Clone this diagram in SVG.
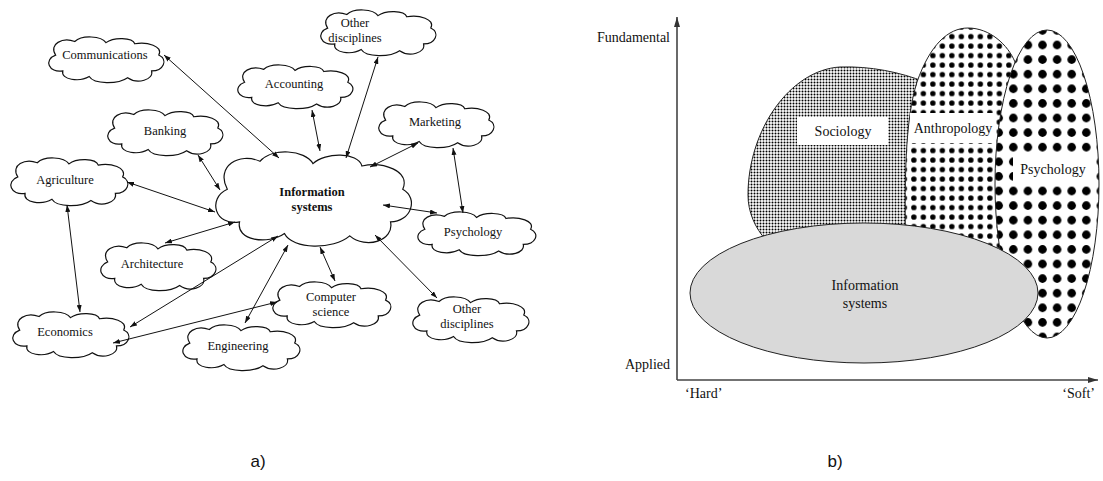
<svg xmlns="http://www.w3.org/2000/svg" xmlns:xlink="http://www.w3.org/1999/xlink" width="1103" height="481" viewBox="0 0 1103 481">
  <style>
    .lbl { font-family: "Liberation Serif", "Times New Roman", serif; font-size: 12.5px; fill: #111; text-anchor: middle; }
    .lblb { font-family: "Liberation Serif", "Times New Roman", serif; font-size: 12.5px; font-weight: bold; fill: #111; text-anchor: middle; }
    .conn { stroke: #111; stroke-width: 1; fill: none; marker-start: url(#ah); marker-end: url(#ah); }
    .axis { stroke: #444; stroke-width: 1.6; fill: none; }
    .blbl { font-family: "Liberation Serif", "Times New Roman", serif; font-size: 14px; fill: #111; }
    .region { stroke: #222; stroke-width: 1; }
    .cap { font-family: "Liberation Sans", Arial, sans-serif; font-size: 17px; fill: #111; text-anchor: middle; }
  </style>
  <defs>
    <!-- unit cloud, roughly 100 x 40 -->
    <path id="cloud" d="M 8,16 C 2,6 14,0 24,4 C 30,-2 46,-1 50,5 C 56,0 72,0 74,6 C 84,4 98,8 94,16 C 102,20 98,30 88,30 C 90,38 76,42 68,36 C 60,42 40,42 36,35 C 28,40 12,38 14,30 C 2,32 -2,20 8,16 Z" fill="#fff" stroke="#111" stroke-width="1.2" vector-effect="non-scaling-stroke"/>
    <marker id="ah" viewBox="0 0 10 10" refX="10" refY="5" markerWidth="7" markerHeight="5" preserveAspectRatio="none" orient="auto-start-reverse" markerUnits="userSpaceOnUse">
      <path d="M0,0 L10,5 L0,10 Z" fill="#111"/>
    </marker>
    <marker id="axh" viewBox="0 0 10 10" refX="10" refY="5" markerWidth="10" markerHeight="6" preserveAspectRatio="none" orient="auto" markerUnits="userSpaceOnUse">
      <path d="M0,0 L10,5 L0,10 Z" fill="#333"/>
    </marker>
    <pattern id="fineDots" x="0" y="0" width="3" height="3" patternUnits="userSpaceOnUse">
      <rect width="3" height="3" fill="#fff"/>
      <circle cx="1.5" cy="1.5" r="1.0" fill="#000"/>
    </pattern>
    <pattern id="midDots" x="918.6" y="60.3" width="9.5" height="9.5" patternUnits="userSpaceOnUse">
      <rect width="9.5" height="9.5" fill="#fff"/>
      <circle cx="4.75" cy="4.75" r="2.7" fill="#000"/>
    </pattern>
    <pattern id="bigDots" x="1006" y="37.7" width="14.6" height="14.6" patternUnits="userSpaceOnUse">
      <rect width="14.6" height="14.6" fill="#fff"/>
      <circle cx="7.3" cy="7.3" r="4.3" fill="#000"/>
    </pattern>
  </defs>

  <rect width="1103" height="481" fill="#fff"/>

  <!-- panel a: clouds -->
  <g id="communications">
    <use xlink:href="#cloud" transform="translate(46,37) scale(1.2,1.13)"/>
    <text class="lbl" x="105" y="59">Communications</text>
  </g>
  <g id="banking">
    <use xlink:href="#cloud" transform="translate(105,110) scale(1.2,1.13)"/>
    <text class="lbl" x="165" y="135">Banking</text>
  </g>
  <g id="agriculture">
    <use xlink:href="#cloud" transform="translate(8,158) scale(1.22,1.18)"/>
    <text class="lbl" x="65" y="184">Agriculture</text>
  </g>
  <g id="accounting">
    <use xlink:href="#cloud" transform="translate(235,65) scale(1.2,1.08)"/>
    <text class="lbl" x="294" y="88">Accounting</text>
  </g>
  <g id="other-disciplines-top">
    <use xlink:href="#cloud" transform="translate(318,10) scale(1.2,1.13)"/>
    <text class="lbl" x="355" y="27">Other</text>
    <text class="lbl" x="355" y="42">disciplines</text>
  </g>
  <g id="marketing">
    <use xlink:href="#cloud" transform="translate(376,102) scale(1.2,1.13)"/>
    <text class="lbl" x="435" y="126">Marketing</text>
  </g>
  <g id="information-systems">
    <use xlink:href="#cloud" transform="translate(211,152) scale(2.04,2.33)"/>
    <text class="lblb" x="312" y="196">Information</text>
    <text class="lblb" x="312" y="211">systems</text>
  </g>
  <g id="psychology-a">
    <use xlink:href="#cloud" transform="translate(415,212) scale(1.23,1.08)"/>
    <text class="lbl" x="473" y="236">Psychology</text>
  </g>
  <g id="architecture">
    <use xlink:href="#cloud" transform="translate(98,243) scale(1.2,1.18)"/>
    <text class="lbl" x="152" y="268">Architecture</text>
  </g>
  <g id="computer-science">
    <use xlink:href="#cloud" transform="translate(270,282) scale(1.23,1.13)"/>
    <text class="lbl" x="331" y="301">Computer</text>
    <text class="lbl" x="331" y="316">science</text>
  </g>
  <g id="other-disciplines-bottom">
    <use xlink:href="#cloud" transform="translate(410,297) scale(1.21,1.13)"/>
    <text class="lbl" x="467" y="313">Other</text>
    <text class="lbl" x="467" y="328">disciplines</text>
  </g>
  <g id="economics">
    <use xlink:href="#cloud" transform="translate(10,312) scale(1.21,1.13)"/>
    <text class="lbl" x="65" y="336">Economics</text>
  </g>
  <g id="engineering">
    <use xlink:href="#cloud" transform="translate(180,325) scale(1.22,1.13)"/>
    <text class="lbl" x="238" y="350">Engineering</text>
  </g>

  <!-- panel a: two-way links, drawn over the cloud outlines -->
  <g id="connectors">
    <line class="conn" x1="164" y1="55" x2="279" y2="158"/>
    <line class="conn" x1="198" y1="155" x2="220" y2="190"/>
    <line class="conn" x1="127" y1="182" x2="215" y2="212"/>
    <line class="conn" x1="312" y1="110" x2="320" y2="151"/>
    <line class="conn" x1="378" y1="57" x2="346" y2="158"/>
    <line class="conn" x1="418" y1="143" x2="370" y2="167"/>
    <line class="conn" x1="453" y1="148" x2="463" y2="213"/>
    <line class="conn" x1="383" y1="205" x2="437" y2="213"/>
    <line class="conn" x1="235" y1="222" x2="165" y2="243"/>
    <line class="conn" x1="278" y1="236" x2="130" y2="327"/>
    <line class="conn" x1="67" y1="205" x2="80" y2="312"/>
    <line class="conn" x1="288" y1="245" x2="245" y2="323"/>
    <line class="conn" x1="320" y1="247" x2="335" y2="281"/>
    <line class="conn" x1="375" y1="235" x2="437" y2="298"/>
    <line class="conn" x1="113" y1="343" x2="277" y2="302"/>
  </g>

  <!-- panel b: discipline map -->
  <g id="sociology">
    <path class="region" fill="url(#fineDots)" d="M 950,255 L 778,255 C 770,248 766,244 766,240 C 755,228 748,212 748,195 C 748,130 790,70 840,67 C 870,66 900,72 925,82 L 955,150 Z"/>
    <rect x="797" y="117" width="91" height="28" fill="#fff"/>
    <text class="blbl" x="843" y="136" text-anchor="middle">Sociology</text>
  </g>
  <g id="anthropology">
    <path class="region" fill="url(#midDots)" d="M 1030,270 L 906,265 C 904,180 905,120 917,82 C 930,45 948,28 968,28 C 990,28 1008,45 1015,62 Z"/>
    <rect x="910" y="113" width="85" height="30" fill="#fff"/>
    <text class="blbl" x="953" y="133" text-anchor="middle">Anthropology</text>
  </g>
  <g id="psychology-b">
    <ellipse class="region" fill="url(#bigDots)" cx="1047" cy="184" rx="52" ry="154"/>
    <rect x="1013" y="157" width="80" height="25" fill="#fff"/>
    <text class="blbl" x="1053" y="174" text-anchor="middle">Psychology</text>
  </g>
  <g id="information-systems-b">
    <ellipse class="region" fill="#d9d9d9" cx="864" cy="293" rx="174" ry="70"/>
    <text class="blbl" x="865" y="290" text-anchor="middle">Information</text>
    <text class="blbl" x="865" y="308" text-anchor="middle">systems</text>
  </g>

  <g id="axes">
    <line class="axis" x1="677" y1="380" x2="677" y2="17" marker-end="url(#axh)"/>
    <line class="axis" x1="677" y1="380" x2="1098" y2="380" marker-end="url(#axh)"/>
    <text class="blbl" x="670" y="42" text-anchor="end">Fundamental</text>
    <text class="blbl" x="670" y="369" text-anchor="end">Applied</text>
    <text class="blbl" x="685" y="398">‘Hard’</text>
    <text class="blbl" x="1095" y="398" text-anchor="end">‘Soft’</text>
  </g>

  <!-- panel captions -->
  <text class="cap" x="258" y="467">a)</text>
  <text class="cap" x="835" y="467">b)</text>
</svg>
